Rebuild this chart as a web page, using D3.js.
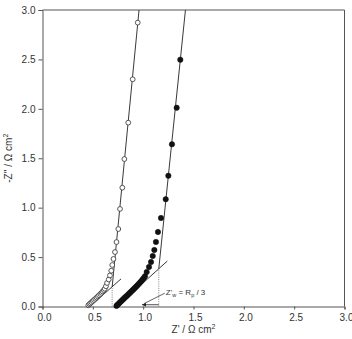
<!DOCTYPE html>
<html><head><meta charset="utf-8">
<script src="https://cdn.jsdelivr.net/npm/d3@7"></script>
<style>body{margin:0;background:#fff;} svg{display:block;font-family:"Liberation Sans",Arial,sans-serif;}</style>
</head><body>
<svg id="c" width="352" height="339"></svg>
<script>
// Open circles series (Z', -Z'')
const openRe = [0.455,0.465,0.475,0.487,0.500,0.512,0.525,0.538,0.550,0.562,0.575,0.587,0.598,0.609,0.619,0.630,0.641,0.658,0.670,0.683,0.693,0.705,0.720,0.735,0.753,0.770,0.793,0.813,0.852,0.896,0.946];
const openIm = [0.012,0.022,0.032,0.043,0.055,0.066,0.078,0.090,0.102,0.114,0.126,0.139,0.152,0.166,0.180,0.205,0.238,0.273,0.314,0.362,0.420,0.481,0.551,0.652,0.784,0.987,1.202,1.492,1.860,2.299,2.872];
// Filled circles series
const fillRe = [0.735,0.742,0.750,0.760,0.770,0.780,0.790,0.800,0.810,0.820,0.831,0.842,0.853,0.864,0.875,0.886,0.897,0.908,0.919,0.930,0.941,0.952,0.963,0.974,0.985,0.996,1.007,1.018,1.035,1.058,1.078,1.095,1.111,1.127,1.147,1.177,1.224,1.250,1.286,1.333,1.369];
const fillIm = [0.006,0.014,0.022,0.032,0.042,0.052,0.062,0.072,0.082,0.092,0.102,0.112,0.123,0.134,0.145,0.156,0.167,0.178,0.189,0.200,0.212,0.224,0.236,0.248,0.261,0.275,0.290,0.306,0.349,0.400,0.450,0.511,0.572,0.653,0.754,0.895,1.085,1.323,1.641,2.011,2.497];
// Fitted lines: [x1,y1,x2,y2]
const openWarburg = [0.47,0.0,0.78,0.279];
const openSteep   = [0.692,0.199,0.959,3.0];
const fillWarburg = [0.74,0.0,1.24,0.46];
const fillSteep   = [1.155,0.382,1.420,3.0];
const dotted      = [[0.692,0.199],[1.155,0.382]];
const xTicks = [0,0.5,1.0,1.5,2.0,2.5,3.0];
const yTicks = [0,0.5,1.0,1.5,2.0,2.5,3.0];

const svg = d3.select("#c");
const L=42.5,R=344.5,T=10,B=306.5;
const x = d3.scaleLinear().domain([0,3]).range([L,R]);
const y = d3.scaleLinear().domain([0,3]).range([B,T]);
const axisCol="#555", txtCol="#333";

// frame
svg.append("line").attr("x1",L).attr("x2",R).attr("y1",T).attr("y2",T).attr("stroke",axisCol);
svg.append("line").attr("x1",R).attr("x2",R).attr("y1",T).attr("y2",B).attr("stroke",axisCol);

const gx = svg.append("g").attr("transform",`translate(0,${B})`)
  .call(d3.axisBottom(x).tickValues(xTicks).tickFormat(d3.format(".1f")).tickSizeOuter(0).tickSize(3).tickPadding(4));
const gy = svg.append("g").attr("transform",`translate(${L},0)`)
  .call(d3.axisLeft(y).tickValues(yTicks).tickFormat(d3.format(".1f")).tickSizeOuter(0).tickSize(4).tickPadding(3));
[gx,gy].forEach(g=>{
  g.select(".domain").attr("stroke",axisCol);
  g.selectAll(".tick line").attr("stroke",axisCol);
  g.selectAll(".tick text").attr("fill",txtCol).style("font-size","10px").style("font-family","Liberation Sans, Arial, sans-serif");
});
gx.selectAll(".tick text").attr("dx",1.5);

// axis labels
const xl = svg.append("text").attr("x",(L+R)/2).attr("y",333).attr("text-anchor","middle")
  .attr("fill",txtCol).style("font-size","10px");
xl.append("tspan").text("Z' / Ω cm");
xl.append("tspan").attr("dy",-4).style("font-size","7px").text("2");
const yl = svg.append("text").attr("transform",`translate(12,${(T+B)/2}) rotate(-90)`).attr("text-anchor","middle")
  .attr("fill",txtCol).style("font-size","10px");
yl.append("tspan").text("-Z'' / Ω cm");
yl.append("tspan").attr("dy",-4).style("font-size","7px").text("2");

// fitted lines
const plot = svg.append("g");
[openWarburg,openSteep,fillWarburg,fillSteep].forEach(s=>{
  plot.append("line").attr("x1",x(s[0])).attr("y1",y(s[1])).attr("x2",x(s[2])).attr("y2",y(s[3]))
    .attr("stroke","#222").attr("stroke-width",0.9);
});
dotted.forEach(p=>{
  plot.append("line").attr("x1",x(p[0])).attr("x2",x(p[0])).attr("y1",y(0)).attr("y2",y(p[1]))
    .attr("stroke","#777").attr("stroke-width",0.9).attr("stroke-dasharray","1,1.2");
});

// points
const od = openRe.map((v,i)=>[v,openIm[i]]);
const fd = fillRe.map((v,i)=>[v,fillIm[i]]);
plot.selectAll("circle.o").data(od).enter().append("circle").attr("class","o")
  .attr("cx",d=>x(d[0])).attr("cy",d=>y(d[1])).attr("r",2.4)
  .attr("fill","#fff").attr("stroke","#444").attr("stroke-width",0.9);
plot.selectAll("circle.f").data(fd).enter().append("circle").attr("class","f")
  .attr("cx",d=>x(d[0])).attr("cy",d=>y(d[1])).attr("r",2.7)
  .attr("fill","#111").attr("stroke","#111").attr("stroke-width",0.5);

// annotation
const defs = svg.append("defs");
defs.append("marker").attr("id","ah").attr("viewBox","0 0 10 10").attr("refX",9).attr("refY",5)
  .attr("markerWidth",6).attr("markerHeight",6).attr("orient","auto-start-reverse")
  .append("path").attr("d","M0,1 L10,5 L0,9 Z").attr("fill","#222");
const ay = y(0.018);
svg.append("line").attr("x1",x(0.99)).attr("x2",x(1.155)).attr("y1",ay).attr("y2",ay)
  .attr("stroke","#222").attr("stroke-width",0.8).attr("marker-start","url(#ah)");
svg.append("line").attr("x1",x(1.215)).attr("y1",y(0.135)).attr("x2",x(1.01)).attr("y2",y(0.03))
  .attr("stroke","#222").attr("stroke-width",0.7);
const at = svg.append("text").attr("x",x(1.225)).attr("y",y(0.115)).attr("fill",txtCol).style("font-size","8px");
at.append("tspan").text("Z'");
at.append("tspan").attr("dy",2).style("font-size","5.5px").text("w");
at.append("tspan").attr("dy",-2).text(" = R");
at.append("tspan").attr("dy",2).style("font-size","5.5px").text("p");
at.append("tspan").attr("dy",-2).text(" / 3");
</script>
</body></html>
